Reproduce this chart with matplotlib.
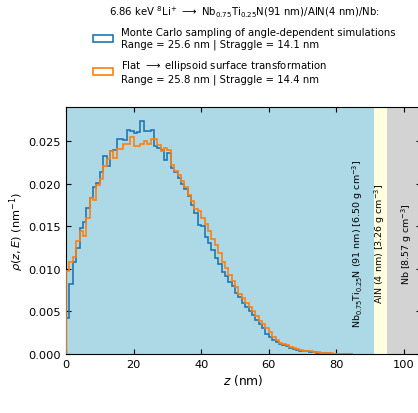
import numpy as np
import matplotlib
matplotlib.use("Agg")
import matplotlib.pyplot as plt
from matplotlib.patches import Patch

# bin edges in nm (1 nm bins starting at 0)
bin_width_nm = 1.0

mc_density = [
    0.0042, 0.0082, 0.0108, 0.0125, 0.0148, 0.0155, 0.0171, 0.0183, 0.0196, 0.0201,
    0.0214, 0.0232, 0.0221, 0.0238, 0.0239, 0.0252, 0.0252, 0.0251, 0.0263, 0.0262,
    0.0260, 0.0261, 0.0273, 0.0262, 0.0262, 0.0263, 0.0244, 0.0242, 0.0239, 0.0228,
    0.0236, 0.0218, 0.0214, 0.0207, 0.0200, 0.0194, 0.0185, 0.0175, 0.0166, 0.0152,
    0.0150, 0.0137, 0.0130, 0.0122, 0.0113, 0.0106, 0.0096, 0.0091, 0.0085, 0.0080,
    0.0072, 0.0067, 0.0060, 0.0055, 0.0051, 0.0046, 0.0040, 0.0035, 0.0031, 0.0023,
    0.0020, 0.0016, 0.0014, 0.0012, 0.0011, 0.0009, 0.0007, 0.0006, 0.0005, 0.0004,
    0.0004, 0.0003, 0.00025, 0.0002, 0.00015, 0.0001, 0.0001, 0.00006, 0.00004, 0.00002,
    0.00001, 0.0, 0.0, 0.0, 0.0,
]

flat_density = [
    0.0098, 0.0108, 0.0114, 0.0133, 0.0145, 0.0139, 0.0160, 0.0183, 0.0181, 0.0198,
    0.0205, 0.0221, 0.0229, 0.0238, 0.0230, 0.0241, 0.0241, 0.0247, 0.0247, 0.0255,
    0.0244, 0.0244, 0.0246, 0.0250, 0.0246, 0.0252, 0.0253, 0.0245, 0.0238, 0.0242,
    0.0240, 0.0222, 0.0215, 0.0210, 0.0203, 0.0196, 0.0187, 0.0180, 0.0170, 0.0168,
    0.0160, 0.0153, 0.0145, 0.0135, 0.0128, 0.0118, 0.0108, 0.0101, 0.0093, 0.0086,
    0.0079, 0.0071, 0.0066, 0.0060, 0.0055, 0.0050, 0.0045, 0.0039, 0.0035, 0.0030,
    0.0026, 0.0020, 0.0016, 0.0013, 0.0012, 0.0010, 0.0008, 0.0007, 0.0006, 0.0005,
    0.0004, 0.0004, 0.0003, 0.0002, 0.0002, 0.00015, 0.0001, 0.0001, 0.00006, 0.00005,
    0.00004, 0.00003, 0.00002, 0.00001, 0.0,
]

series_labels = [
    "Monte Carlo sampling of angle-dependent simulations\nRange = 25.6 nm | Straggle = 14.1 nm",
    "Flat $\\longrightarrow$ ellipsoid surface transformation\nRange = 25.8 nm | Straggle = 14.4 nm",
]
series_colors = ["tab:blue", "tab:orange"]
legend_title = ("6.86 keV $^{8}$Li$^{+}$ $\\longrightarrow$ "
                "Nb$_{0.75}$Ti$_{0.25}$N(91 nm)/AlN(4 nm)/Nb:")

layer_bounds = [0.0, 91.0, 95.0, 120.0]
layer_labels = [
    "Nb$_{0.75}$Ti$_{0.25}$N (91 nm) [6.50 g cm$^{-3}$]",
    "AlN (4 nm) [3.26 g cm$^{-3}$]",
    "Nb [8.57 g cm$^{-3}$]",
]
layer_colors = ["lightblue", "lightyellow", "lightgray"]
layer_label_x = [86.3, 92.9, 100.8]

W, H = 418, 414
fig = plt.figure(figsize=(W / 100, H / 100), dpi=100)
ax = fig.add_axes([66 / W, (H - 355) / H, 355 / W, (355 - 108) / H])

for i in range(3):
    ax.axvspan(layer_bounds[i], layer_bounds[i + 1], color=layer_colors[i], lw=0, zorder=0)
    ax.text(layer_label_x[i], 0.45, layer_labels[i], rotation=90, ha="center", va="center",
            fontsize=6.8, transform=ax.get_xaxis_transform(), zorder=1)

edges_mc = np.arange(len(mc_density) + 1) * bin_width_nm
edges_flat = np.arange(len(flat_density) + 1) * bin_width_nm
ax.stairs(mc_density, edges_mc, color=series_colors[0], lw=1.2, zorder=3)
ax.stairs(flat_density, edges_flat, color=series_colors[1], lw=1.2, zorder=4)

ax.set_xlim(0, 105)
ax.set_ylim(0, 0.029)
ax.set_xticks([0, 20, 40, 60, 80, 100])
ax.set_yticks([0, 0.005, 0.010, 0.015, 0.020, 0.025])
ax.yaxis.set_major_formatter(matplotlib.ticker.FormatStrFormatter("%.3f"))
ax.tick_params(direction="in", top=True, right=True, labelsize=8.2)
ax.set_xlabel("$z$ (nm)", fontsize=8.8, labelpad=2)
ax.set_ylabel("$\\rho(z, E)$ (nm$^{-1}$)", fontsize=8.2, labelpad=1.5)

handles = [Patch(facecolor="none", edgecolor=c, lw=1.2) for c in series_colors]
leg = fig.legend(handles=handles, labels=series_labels, title=legend_title, loc="upper center",
                 bbox_to_anchor=(0.584, 1.01), frameon=False, fontsize=7.25,
                 title_fontsize=7.25, labelspacing=0.8)

fig.savefig("out.png", dpi=100)
